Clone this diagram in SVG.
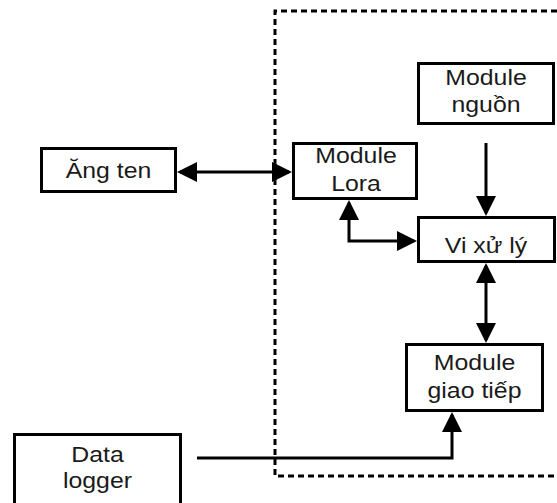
<svg xmlns="http://www.w3.org/2000/svg" width="557" height="503" viewBox="0 0 557 503">
<style>
.box{fill:#fff;stroke:#000;stroke-width:3}
.lbl{font-family:"Liberation Sans",Arial,sans-serif;font-size:22px;fill:#1a1a1a;text-anchor:middle}
.con{fill:none;stroke:#000;stroke-width:3}
.frame{fill:none;stroke:#000;stroke-width:3;stroke-dasharray:6 4}
</style>
<defs>
<marker id="ah" viewBox="0 0 20 20" refX="17" refY="10" markerWidth="20" markerHeight="20" markerUnits="userSpaceOnUse" orient="auto-start-reverse">
<path d="M0,0 L20,10 L0,20 Z" fill="#000"/>
</marker>
</defs>
<rect width="557" height="503" fill="#fff"/>
<path class="frame" d="M557,11 H275 V476 H557"/>
<g id="ang-ten">
<rect class="box" x="41.5" y="148.5" width="134" height="43"/>
<text class="lbl" transform="translate(108.5,178) scale(1.13,1)">Ăng ten</text>
</g>
<g id="module-lora">
<rect class="box" x="293.5" y="143.5" width="123" height="55"/>
<text class="lbl" transform="translate(356,163) scale(1.13,1)">Module</text>
<text class="lbl" transform="translate(356,191) scale(1.13,1)">Lora</text>
</g>
<g id="module-nguon">
<rect class="box" x="418.5" y="63.5" width="135" height="60"/>
<text class="lbl" transform="translate(486,85) scale(1.13,1)">Module</text>
<text class="lbl" transform="translate(486,112) scale(1.13,1)">nguồn</text>
</g>
<g id="vi-xu-ly">
<rect class="box" x="418.5" y="217.5" width="136" height="44"/>
<text class="lbl" transform="translate(486,253) scale(1.13,1)">Vi xử lý</text>
</g>
<g id="module-giao-tiep">
<rect class="box" x="406.5" y="344.5" width="136" height="66"/>
<text class="lbl" transform="translate(474.5,370) scale(1.13,1)">Module</text>
<text class="lbl" transform="translate(474.5,398) scale(1.13,1)">giao tiếp</text>
</g>
<g id="data-logger">
<rect class="box" x="14.5" y="434.5" width="166" height="72"/>
<text class="lbl" transform="translate(97.5,462) scale(1.13,1)">Data</text>
<text class="lbl" transform="translate(97.5,488) scale(1.13,1)">logger</text>
</g>
<g id="connectors">
<path class="con" d="M180,172 H289" marker-start="url(#ah)" marker-end="url(#ah)"/>
<path class="con" d="M486,143 V213" marker-end="url(#ah)"/>
<path class="con" d="M349,203 V241 H414" marker-start="url(#ah)" marker-end="url(#ah)"/>
<path class="con" d="M486,266 V340" marker-start="url(#ah)" marker-end="url(#ah)"/>
<path class="con" d="M197,458 H452 V415" marker-end="url(#ah)"/>
</g>
</svg>
